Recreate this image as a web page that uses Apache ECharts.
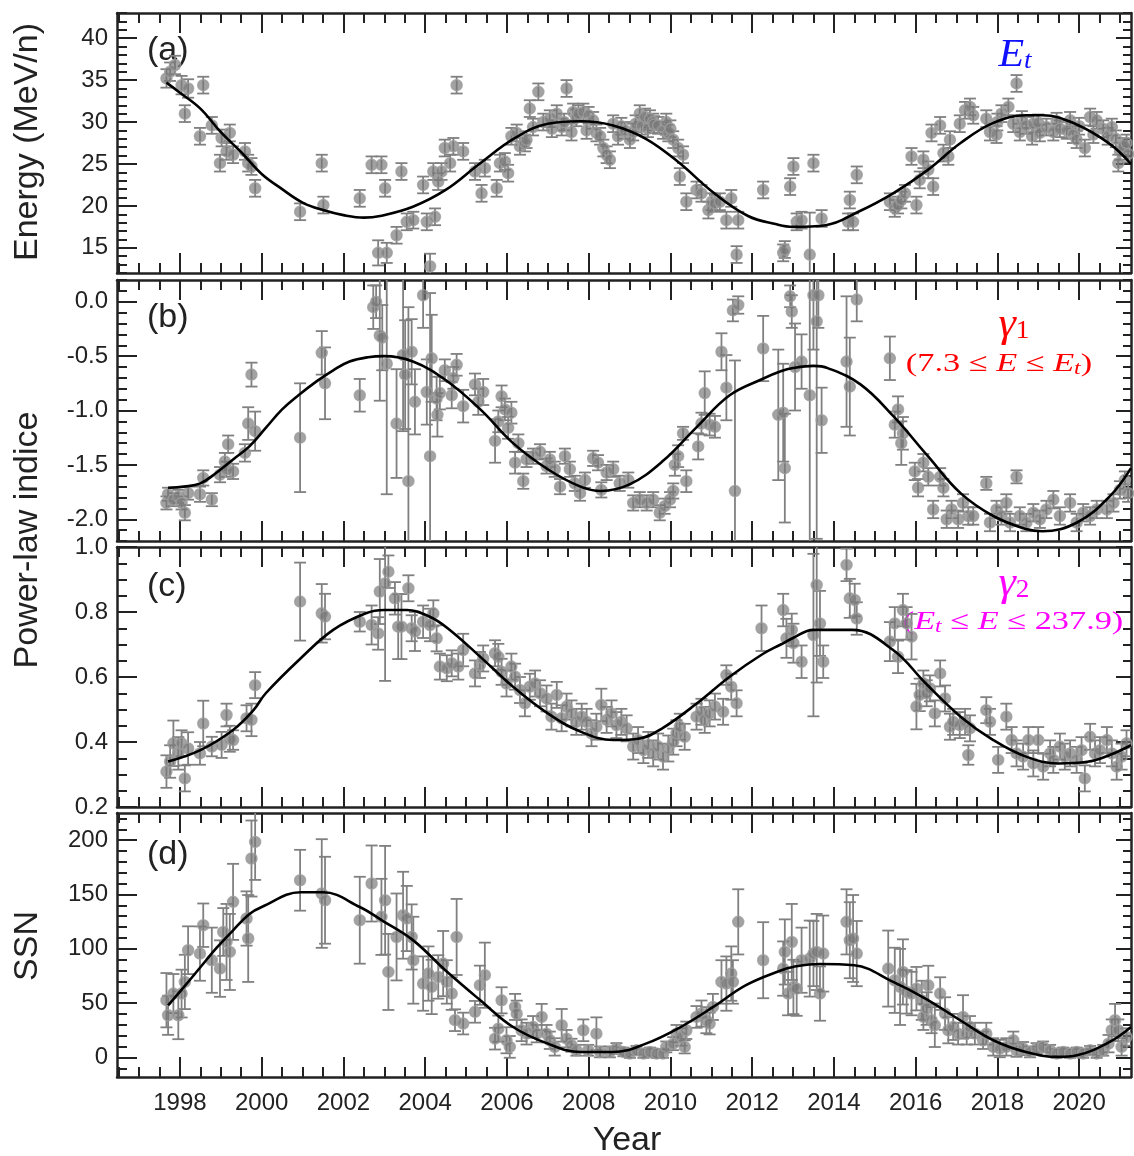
<!DOCTYPE html>
<html><head><meta charset="utf-8">
<script src="https://cdn.jsdelivr.net/npm/echarts@6/dist/echarts.min.js"></script>
<style>html,body{margin:0;padding:0;background:#fff}#chart{width:1134px;height:1156px}</style>
</head><body><div id="chart"></div>
<script>
// ---------------- DATA ----------------
// each point: [year, value, error]
const energyPts = [
[1997.67,35.2,1.1],[1997.76,36.0,1.1],[1997.88,36.8,1.1],[1998.04,34.4,1.1],[1998.2,34.0,1.1],[1998.57,34.4,1.0],[1998.12,31.0,1.0],[1998.49,28.3,1.0],[1998.78,29.6,1.0],[1999.02,28.1,1.0],[1999.22,28.7,1.0],[1998.98,25.1,1.0],[1999.14,26.5,1.0],[1999.3,26.1,1.0],[1999.59,26.5,1.0],[1999.67,25.1,1.0],[1999.75,24.7,1.0],[1999.84,22.1,1.0],[2000.94,19.3,1.0],[2001.47,25.1,1.0],[2001.51,20.1,1.0],[2002.4,20.9,1.0],[2002.69,24.9,1.0],[2002.93,24.9,1.0],[2003.02,22.1,1.0],[2002.85,14.4,1.5],[2003.06,14.4,1.2],[2003.3,16.5,1.0],[2003.42,24.1,1.0],[2003.55,18.1,1.0],[2003.71,18.3,1.0],[2004.04,18.1,1.0],[2004.24,18.7,1.0],[2003.95,22.5,1.0],[2004.12,12.8,1.5],[2004.2,24.1,1.0],[2004.4,24.1,1.0],[2004.32,22.9,1.0],[2004.48,26.9,1.0],[2004.69,27.1,1.0],[2004.93,26.5,1.0],[2004.61,25.1,1.0],[2004.77,34.4,1.0],[2005.22,24.1,1.0],[2005.38,21.5,1.0],[2005.46,24.5,1.0],[2005.75,22.1,1.0],[2005.83,25.1,1.0],[2005.95,25.3,1.0],[2006.03,23.9,1.0],[2006.11,28.3,1.0],[2006.24,28.7,1.0],[2006.32,27.1,1.0],[2006.44,27.5,1.0],[2006.48,27.9,1.0],[2006.56,31.6,1.0],[2006.77,33.6,1.0],[2006.64,29.4,1.0],[2006.89,30.0,1.0],[2007.05,30.4,1.0],[2007.1,29.2,1.0],[2007.22,31.0,1.0],[2007.34,29.4,1.0],[2007.4,30.0,1.0],[2007.46,34.0,1.0],[2007.62,31.2,1.0],[2007.7,30.5,1.0],[2007.75,31.0,1.0],[2007.58,28.8,1.0],[2007.87,31.2,1.0],[2007.95,29.0,1.0],[2008.0,30.8,1.0],[2008.11,30.2,1.0],[2008.19,28.7,1.0],[2008.28,28.3,1.0],[2008.36,26.9,1.0],[2008.44,26.1,1.0],[2008.52,25.5,1.0],[2008.6,29.8,1.0],[2008.72,28.3,1.0],[2008.8,29.5,1.0],[2008.89,29.0,1.0],[2009.01,27.9,1.0],[2009.09,28.8,1.0],[2009.15,29.8,1.0],[2009.25,31.0,1.0],[2009.3,29.5,1.0],[2009.38,30.6,1.0],[2009.45,29.2,1.0],[2009.5,30.4,1.0],[2009.58,30.0,1.0],[2009.6,29.7,1.0],[2009.7,29.6,1.0],[2009.82,29.0,1.0],[2009.9,30.0,1.0],[2009.95,28.7,1.0],[2010.0,29.2,1.0],[2010.07,27.9,1.0],[2010.19,26.9,1.0],[2010.31,26.1,1.0],[2010.23,23.5,1.0],[2010.39,20.5,1.0],[2010.64,21.9,1.0],[2010.76,21.5,1.0],[2010.93,19.5,1.0],[2011.01,20.5,1.0],[2011.09,20.3,1.0],[2011.21,20.5,1.0],[2011.37,18.3,1.0],[2011.49,20.9,1.0],[2011.62,14.2,1.0],[2011.66,18.3,1.0],[2012.27,21.9,1.0],[2012.76,14.4,1.0],[2012.8,14.8,1.0],[2012.93,22.3,1.0],[2013.01,24.7,1.0],[2013.09,18.1,1.0],[2013.21,18.3,1.0],[2013.5,25.1,1.0],[2013.41,14.2,5.0],[2013.7,18.5,1.0],[2014.35,18.1,1.0],[2014.39,20.7,1.0],[2014.47,18.1,1.0],[2014.56,23.7,1.0],[2015.37,20.5,1.0],[2015.49,19.7,1.0],[2015.57,20.1,1.0],[2015.65,20.7,1.0],[2015.74,21.5,1.0],[2015.9,25.9,1.0],[2016.02,20.1,1.0],[2016.1,23.1,1.0],[2016.19,25.5,1.0],[2016.31,24.3,1.0],[2016.43,22.3,1.0],[2016.39,28.7,1.0],[2016.6,29.6,1.0],[2016.68,26.3,1.0],[2016.8,25.9,1.0],[2016.84,27.9,1.0],[2017.08,29.8,1.0],[2017.21,31.4,1.0],[2017.33,31.8,1.0],[2017.41,30.8,1.0],[2017.73,30.4,1.0],[2017.82,28.8,1.0],[2017.98,28.5,1.0],[2018.0,30.0,1.0],[2018.1,31.0,1.0],[2018.27,31.8,1.0],[2018.47,34.6,1.0],[2018.39,29.8,1.0],[2018.55,28.8,1.0],[2018.6,30.3,1.0],[2018.71,29.6,1.0],[2018.85,28.3,1.0],[2018.88,29.8,1.0],[2019.0,29.9,1.0],[2019.04,28.7,1.0],[2019.2,29.4,1.0],[2019.37,28.8,1.0],[2019.45,30.1,1.0],[2019.53,29.2,1.0],[2019.7,29.0,1.0],[2019.78,30.2,1.0],[2019.85,28.5,1.0],[2019.94,27.9,1.0],[2020.0,29.5,1.0],[2020.14,26.9,1.0],[2020.27,30.6,1.0],[2020.35,28.5,1.0],[2020.43,30.2,1.0],[2020.59,29.2,1.0],[2020.7,28.3,1.0],[2020.8,29.4,1.0],[2020.9,28.0,1.0],[2020.96,25.1,1.0],[2021.0,26.5,1.0],[2021.08,27.1,1.0],[2021.16,27.5,1.0],[2021.2,26.2,1.0]
];
const energyFit = [
[1997.67,34.7],[1998.0,33.5],[1998.5,31.6],[1999.0,28.8],[1999.5,26.4],[2000.0,23.8],[2000.5,22.0],[2001.0,20.4],[2001.5,19.5],[2002.0,18.9],[2002.5,18.6],[2002.9,18.8],[2003.7,19.9],[2004.5,21.9],[2005.3,24.9],[2006.2,28.1],[2007.0,29.8],[2007.8,30.1],[2008.6,29.6],[2009.4,28.0],[2010.2,25.2],[2011.05,21.6],[2011.9,18.8],[2012.6,17.8],[2013.0,17.5],[2013.8,17.7],[2014.6,19.3],[2015.45,21.5],[2016.3,24.3],[2017.1,27.5],[2017.9,29.9],[2018.7,30.8],[2019.1,30.8],[2019.9,29.8],[2020.75,27.4],[2021.27,25.0]
];

const gamma1Pts = [
[1997.67,-1.85,0.06],[1997.71,-1.77,0.06],[1997.84,-1.82,0.06],[1997.96,-1.79,0.06],[1998.04,-1.85,0.06],[1998.12,-1.94,0.07],[1998.2,-1.76,0.06],[1998.49,-1.77,0.07],[1998.57,-1.62,0.07],[1998.78,-1.82,0.06],[1998.98,-1.59,0.07],[1999.1,-1.47,0.08],[1999.14,-1.54,0.07],[1999.18,-1.31,0.08],[1999.3,-1.56,0.07],[1999.59,-1.39,0.08],[1999.67,-1.12,0.15],[1999.75,-0.67,0.11],[1999.84,-1.19,0.18],[2000.94,-1.25,0.5],[2001.47,-0.47,0.2],[2001.55,-0.75,0.33],[2002.4,-0.86,0.15],[2002.73,-0.05,0.2],[2002.8,0.0,0.15],[2002.89,-0.31,0.6],[2002.95,-0.33,0.3],[2003.06,-0.57,1.2],[2003.3,-1.12,0.5],[2003.46,-0.49,0.7],[2003.51,-0.67,0.5],[2003.59,-1.65,1.6],[2003.67,-0.46,0.3],[2003.75,-0.92,0.3],[2003.95,0.06,0.3],[2004.04,-0.83,0.3],[2004.12,-1.42,1.5],[2004.16,-0.52,0.4],[2004.28,-0.89,0.2],[2004.3,-1.04,0.2],[2004.36,-0.84,0.15],[2004.48,-0.63,0.1],[2004.65,-0.86,0.12],[2004.69,-0.70,0.1],[2004.77,-0.58,0.1],[2004.93,-0.96,0.15],[2005.22,-0.76,0.1],[2005.3,-0.92,0.12],[2005.42,-0.83,0.12],[2005.71,-1.28,0.2],[2005.79,-1.10,0.1],[2005.87,-0.87,0.1],[2005.95,-0.99,0.1],[2006.03,-1.16,0.1],[2006.11,-1.02,0.1],[2006.2,-1.48,0.1],[2006.28,-1.30,0.08],[2006.4,-1.65,0.07],[2006.48,-1.45,0.07],[2006.64,-1.42,0.07],[2006.81,-1.38,0.07],[2006.97,-1.51,0.07],[2007.05,-1.45,0.07],[2007.17,-1.54,0.07],[2007.3,-1.70,0.07],[2007.42,-1.42,0.07],[2007.54,-1.54,0.07],[2007.66,-1.67,0.07],[2007.79,-1.76,0.07],[2007.91,-1.64,0.07],[2008.11,-1.44,0.07],[2008.23,-1.48,0.07],[2008.31,-1.73,0.07],[2008.44,-1.57,0.07],[2008.6,-1.54,0.07],[2008.76,-1.67,0.07],[2008.97,-1.64,0.07],[2009.09,-1.85,0.07],[2009.25,-1.82,0.07],[2009.42,-1.85,0.07],[2009.58,-1.82,0.07],[2009.74,-1.94,0.07],[2009.86,-1.88,0.07],[2009.99,-1.82,0.07],[2010.07,-1.74,0.07],[2010.11,-1.50,0.1],[2010.19,-1.42,0.1],[2010.31,-1.21,0.06],[2010.39,-1.65,0.1],[2010.68,-1.33,0.12],[2010.76,-1.12,0.1],[2010.84,-0.84,0.2],[2010.96,-1.13,0.1],[2011.09,-1.15,0.1],[2011.25,-0.46,0.17],[2011.37,-0.79,0.3],[2011.53,-0.08,0.1],[2011.66,-0.03,0.08],[2011.58,-1.74,1.2],[2012.27,-0.43,0.3],[2012.64,-1.04,0.6],[2012.76,-1.02,0.45],[2012.8,-1.53,0.5],[2012.93,0.05,0.1],[2012.97,-0.09,0.15],[2013.05,-0.60,0.4],[2013.21,-0.55,0.25],[2013.41,-0.86,2.0],[2013.5,0.06,0.5],[2013.62,0.06,0.3],[2013.58,-0.18,2.0],[2013.7,-1.09,0.3],[2014.31,-0.55,0.6],[2014.39,-0.78,0.45],[2014.56,0.02,0.2],[2015.37,-0.52,0.2],[2015.49,-1.13,0.12],[2015.57,-0.99,0.12],[2015.65,-1.30,0.2],[2015.69,-1.21,0.15],[2015.98,-1.56,0.08],[2016.06,-1.71,0.08],[2016.19,-1.48,0.08],[2016.31,-1.61,0.08],[2016.43,-1.91,0.08],[2016.6,-1.61,0.08],[2016.68,-1.71,0.08],[2016.76,-2.0,0.08],[2016.88,-1.91,0.08],[2017.04,-2.0,0.08],[2017.16,-1.85,0.08],[2017.29,-1.97,0.08],[2017.41,-1.97,0.08],[2017.73,-1.67,0.06],[2017.82,-2.03,0.08],[2017.98,-1.91,0.08],[2018.1,-1.97,0.08],[2018.22,-1.85,0.08],[2018.31,-2.03,0.08],[2018.47,-1.61,0.06],[2018.55,-1.97,0.08],[2018.71,-2.03,0.08],[2018.88,-1.94,0.08],[2019.04,-2.0,0.08],[2019.2,-1.91,0.08],[2019.37,-1.82,0.08],[2019.53,-1.97,0.08],[2019.78,-1.85,0.08],[2019.94,-2.03,0.08],[2020.1,-1.94,0.08],[2020.27,-1.97,0.08],[2020.43,-1.91,0.08],[2020.68,-1.91,0.08],[2020.84,-1.85,0.08],[2021.0,-1.73,0.08],[2021.12,-1.64,0.08],[2021.2,-1.76,0.08]
];
const gamma1Fit = [
[1997.71,-1.71],[1998.1,-1.70],[1998.5,-1.67],[1998.9,-1.57],[1999.3,-1.45],[1999.7,-1.33],[2000.1,-1.16],[2000.5,-0.99],[2000.9,-0.86],[2001.35,-0.73],[2001.75,-0.63],[2002.15,-0.55],[2002.6,-0.51],[2003.0,-0.50],[2003.7,-0.55],[2004.5,-0.72],[2005.35,-0.99],[2006.15,-1.30],[2007.0,-1.54],[2007.8,-1.70],[2008.3,-1.74],[2009.0,-1.68],[2009.8,-1.47],[2010.65,-1.15],[2011.45,-0.86],[2012.25,-0.71],[2012.7,-0.64],[2013.0,-0.61],[2013.5,-0.59],[2013.85,-0.61],[2014.65,-0.76],[2015.45,-1.05],[2016.3,-1.42],[2017.1,-1.76],[2017.9,-1.97],[2018.7,-2.09],[2019.1,-2.11],[2019.95,-2.03],[2020.75,-1.79],[2021.27,-1.53]
];

const gamma2Pts = [
[1997.67,0.309,0.05],[1997.76,0.34,0.05],[1997.84,0.396,0.07],[1997.96,0.365,0.05],[1998.04,0.396,0.04],[1998.12,0.288,0.04],[1998.2,0.38,0.05],[1998.49,0.365,0.035],[1998.57,0.457,0.07],[1998.78,0.386,0.03],[1999.02,0.391,0.04],[1999.14,0.483,0.035],[1999.22,0.41,0.04],[1999.3,0.406,0.03],[1999.63,0.473,0.04],[1999.75,0.468,0.05],[1999.84,0.575,0.04],[2000.94,0.832,0.12],[2001.47,0.796,0.09],[2001.55,0.786,0.07],[2002.4,0.77,0.03],[2002.69,0.76,0.06],[2002.85,0.734,0.05],[2002.89,0.863,0.1],[2003.02,0.888,0.3],[2003.1,0.924,0.05],[2003.26,0.842,0.05],[2003.34,0.755,0.1],[2003.42,0.755,0.1],[2003.59,0.873,0.04],[2003.67,0.75,0.04],[2003.75,0.74,0.06],[2003.95,0.77,0.05],[2004.12,0.76,0.05],[2004.2,0.796,0.04],[2004.28,0.719,0.04],[2004.36,0.632,0.04],[2004.53,0.627,0.04],[2004.65,0.642,0.04],[2004.81,0.632,0.04],[2004.93,0.683,0.05],[2005.22,0.611,0.04],[2005.34,0.637,0.04],[2005.42,0.657,0.04],[2005.71,0.673,0.04],[2005.79,0.662,0.04],[2005.87,0.616,0.04],[2005.99,0.58,0.04],[2006.11,0.632,0.04],[2006.2,0.601,0.04],[2006.32,0.56,0.04],[2006.44,0.519,0.04],[2006.56,0.57,0.04],[2006.69,0.58,0.04],[2006.81,0.55,0.04],[2006.97,0.534,0.04],[2007.09,0.478,0.04],[2007.22,0.545,0.04],[2007.34,0.473,0.04],[2007.46,0.509,0.04],[2007.58,0.488,0.04],[2007.7,0.462,0.04],[2007.83,0.478,0.04],[2007.95,0.462,0.04],[2008.07,0.427,0.04],[2008.19,0.447,0.04],[2008.31,0.514,0.05],[2008.44,0.468,0.04],[2008.56,0.488,0.04],[2008.68,0.452,0.04],[2008.8,0.462,0.04],[2008.93,0.442,0.04],[2009.09,0.386,0.04],[2009.21,0.406,0.04],[2009.34,0.375,0.04],[2009.46,0.391,0.04],[2009.58,0.365,0.04],[2009.7,0.386,0.04],[2009.82,0.355,0.04],[2009.95,0.38,0.04],[2010.07,0.401,0.04],[2010.15,0.427,0.04],[2010.23,0.447,0.04],[2010.35,0.416,0.04],[2010.64,0.478,0.04],[2010.76,0.493,0.04],[2010.84,0.468,0.04],[2010.96,0.488,0.04],[2011.09,0.509,0.04],[2011.29,0.493,0.04],[2011.37,0.606,0.03],[2011.49,0.57,0.04],[2011.62,0.519,0.04],[2012.23,0.75,0.07],[2012.76,0.806,0.05],[2012.84,0.719,0.06],[2012.97,0.745,0.05],[2013.01,0.704,0.06],[2013.21,0.647,0.05],[2013.5,0.729,0.25],[2013.58,0.883,0.3],[2013.66,0.765,0.1],[2013.74,0.647,0.05],[2014.31,0.945,0.05],[2014.39,0.842,0.06],[2014.51,0.837,0.05],[2014.56,0.78,0.05],[2015.37,0.709,0.06],[2015.49,0.765,0.05],[2015.57,0.662,0.05],[2015.69,0.806,0.05],[2015.78,0.765,0.05],[2015.9,0.724,0.07],[2016.02,0.509,0.07],[2016.1,0.545,0.05],[2016.19,0.58,0.04],[2016.27,0.55,0.04],[2016.35,0.565,0.04],[2016.47,0.488,0.04],[2016.6,0.611,0.04],[2016.72,0.534,0.04],[2016.84,0.447,0.04],[2016.92,0.462,0.04],[2017.08,0.452,0.04],[2017.21,0.462,0.04],[2017.33,0.442,0.04],[2017.29,0.36,0.03],[2017.73,0.498,0.04],[2017.82,0.462,0.04],[2018.02,0.345,0.04],[2018.22,0.478,0.04],[2018.35,0.406,0.04],[2018.47,0.365,0.04],[2018.63,0.355,0.04],[2018.76,0.406,0.04],[2018.88,0.334,0.04],[2019.0,0.406,0.04],[2019.12,0.324,0.04],[2019.29,0.365,0.04],[2019.37,0.345,0.04],[2019.53,0.386,0.04],[2019.65,0.355,0.04],[2019.78,0.365,0.04],[2019.94,0.345,0.04],[2020.06,0.375,0.04],[2020.14,0.288,0.04],[2020.27,0.416,0.04],[2020.39,0.365,0.04],[2020.51,0.375,0.04],[2020.68,0.406,0.04],[2020.8,0.365,0.04],[2020.92,0.324,0.04],[2021.04,0.355,0.04],[2021.16,0.396,0.04]
];
const gamma2Fit = [
[1997.71,0.34],[1998.5,0.375],[1999.3,0.437],[1999.8,0.498],[2000.1,0.55],[2000.95,0.657],[2001.75,0.745],[2002.55,0.796],[2003.0,0.806],[2003.55,0.806],[2004.1,0.786],[2004.55,0.75],[2005.35,0.662],[2006.15,0.57],[2007.0,0.488],[2007.8,0.432],[2008.6,0.406],[2009.25,0.411],[2009.8,0.442],[2010.65,0.519],[2011.45,0.601],[2012.25,0.67],[2012.7,0.70],[2013.0,0.72],[2013.5,0.745],[2014.45,0.745],[2015.45,0.683],[2016.25,0.58],[2017.1,0.478],[2017.9,0.406],[2018.7,0.355],[2019.5,0.334],[2020.2,0.339],[2020.75,0.36],[2021.27,0.39]
];

const ssnPts = [
[1997.67,52.7,25],[1997.71,38.8,18],[1997.84,58.8,18],[1997.96,38.8,22],[1998.04,58.8,22],[1998.12,69.5,25],[1998.2,98.7,22],[1998.49,95.6,25],[1998.57,121.7,20],[1998.78,89.5,30],[1998.98,81.8,26],[1999.06,115.5,22],[1999.14,106.3,35],[1999.22,97.1,35],[1999.3,143.2,35],[1999.63,127.9,25],[1999.67,109.5,40],[1999.75,183.1,35],[1999.84,198.4,35],[2000.94,163.1,28],[2001.47,150.9,50],[2001.55,144.7,40],[2002.4,126.3,40],[2002.69,160.1,35],[2002.93,129.4,35],[2003.02,144.7,50],[2003.1,78.7,35],[2003.3,110.9,40],[2003.46,130.9,40],[2003.55,127.9,30],[2003.67,110.9,30],[2003.71,89.5,40],[2003.95,68.0,25],[2004.08,77.2,25],[2004.16,64.9,25],[2004.32,74.1,20],[2004.44,86.4,30],[2004.53,69.5,20],[2004.65,58.8,15],[2004.73,34.3,10],[2004.77,110.9,35],[2004.93,31.2,10],[2005.22,42.0,10],[2005.34,66.5,18],[2005.46,75.7,30],[2005.71,17.3,10],[2005.79,26.5,12],[2005.87,52.6,12],[2005.99,15.8,12],[2006.07,9.7,10],[2006.2,46.5,12],[2006.24,40.3,12],[2006.36,25.0,10],[2006.48,21.9,10],[2006.64,28.1,10],[2006.73,21.9,8],[2006.85,37.3,12],[2006.97,21.9,8],[2007.05,15.8,8],[2007.17,9.7,8],[2007.34,29.6,15],[2007.46,17.3,8],[2007.58,11.2,6],[2007.7,6.6,5],[2007.87,25.0,10],[2007.99,6.6,5],[2008.19,21.9,15],[2008.28,5.1,5],[2008.52,5.1,5],[2008.68,8.2,5],[2008.85,5.1,4],[2009.01,3.6,4],[2009.17,6.6,4],[2009.34,3.6,4],[2009.5,5.1,4],[2009.66,3.6,4],[2009.82,3.6,4],[2009.9,9.7,5],[2010.07,12.7,6],[2010.15,21.9,8],[2010.27,18.8,8],[2010.35,9.7,6],[2010.39,25.0,8],[2010.64,37.3,10],[2010.76,40.4,12],[2010.88,34.3,12],[2010.96,31.2,10],[2011.04,46.5,12],[2011.25,69.5,20],[2011.37,68.0,25],[2011.49,77.2,25],[2011.53,69.5,20],[2011.66,124.8,30],[2012.27,89.5,35],[2012.76,81.8,25],[2012.8,97.1,30],[2012.88,58.8,20],[2012.97,106.3,35],[2013.01,64.9,25],[2013.09,63.3,25],[2013.21,89.5,30],[2013.41,91.0,35],[2013.5,95.6,30],[2013.58,97.1,35],[2013.66,58.8,25],[2013.74,95.6,35],[2014.31,124.8,30],[2014.39,107.9,35],[2014.47,109.5,40],[2014.56,95.6,30],[2015.33,81.8,35],[2015.49,71.0,30],[2015.62,64.9,35],[2015.69,78.7,30],[2015.78,60.4,20],[2015.9,58.8,20],[2016.02,63.3,20],[2016.15,52.6,18],[2016.19,37.3,12],[2016.27,45.0,15],[2016.31,66.4,18],[2016.39,34.3,12],[2016.47,29.6,20],[2016.6,58.8,15],[2016.72,40.4,15],[2016.8,25.0,12],[2016.92,28.1,12],[2017.04,21.9,10],[2017.16,37.3,20],[2017.25,21.9,10],[2017.33,28.1,10],[2017.45,21.9,10],[2017.65,15.8,8],[2017.73,21.9,10],[2017.9,9.7,8],[2018.06,8.2,8],[2018.22,9.7,8],[2018.39,15.8,8],[2018.47,6.6,6],[2018.63,8.2,6],[2018.8,5.1,5],[2018.96,8.2,5],[2019.12,9.7,5],[2019.29,6.6,5],[2019.45,3.6,4],[2019.61,5.1,4],[2019.78,3.6,4],[2019.94,5.1,4],[2020.1,3.6,4],[2020.27,6.6,4],[2020.43,3.6,4],[2020.59,6.6,5],[2020.72,12.7,8],[2020.8,25.0,10],[2020.88,34.3,15],[2020.96,25.0,10],[2021.04,9.7,8],[2021.16,18.8,8]
];
const ssnFit = [
[1997.71,48],[1998.1,65],[1998.5,83],[1998.9,101],[1999.3,117],[1999.7,132],[2000.0,138.5],[2000.95,152],[2001.5,152],[2002.4,138.5],[2002.95,126],[2003.7,108],[2004.5,80],[2005.35,52.6],[2006.15,28],[2007.0,12.7],[2007.8,5],[2008.6,5],[2009.4,12.7],[2010.25,28],[2011.05,46.5],[2011.85,66.5],[2012.7,80],[2013.0,83.3],[2013.65,86],[2014.5,84.8],[2015.45,69.5],[2016.25,54],[2017.1,34],[2017.9,15.8],[2018.7,5],[2019.5,0.5],[2019.95,2],[2020.75,14.3],[2021.27,28]
];

// tick labels
const yearLabels = [1998,2000,2002,2004,2006,2008,2010,2012,2014,2016,2018,2020];
const energyTicks = [15,20,25,30,35,40];
const gamma1Ticks = [-2.0,-1.5,-1.0,-0.5,0.0];
const gamma2Ticks = [0.2,0.4,0.6,0.8,1.0];
const ssnTicks = [0,50,100,150,200];

// ---------------- CHART ----------------
function range(a, b, step){ const out=[]; for(let v=a; v<=b+1e-9; v+=step) out.push(Math.round(v*1000)/1000); return out; }
const FONT = '"Liberation Sans", Arial, Helvetica, sans-serif';
const SERIF = '"Liberation Serif", "DejaVu Serif", serif';
const INK = '#222';
const GREY = '#808080';
const X_MIN = 1996.46, X_MAX = 2021.27;
const GL = 117, GW = 1014;
const yearMinor = range(1996.5, 2021, 0.5);

const panels = [
  {top:13, height:260, min:12, max:43, major:energyTicks, minor:range(12,43,1), fmt:v=>String(v), pts:energyPts, fit:energyFit},
  {top:280, height:261, min:-2.2, max:0.2, major:gamma1Ticks, minor:range(-2.2,0.2,0.1), fmt:v=>v.toFixed(1), pts:gamma1Pts, fit:gamma1Fit},
  {top:547, height:260, min:0.2, max:1.0, major:gamma2Ticks, minor:range(0.2,1.0,0.05), fmt:v=>v.toFixed(1), pts:gamma2Pts, fit:gamma2Fit},
  {top:813, height:264, min:-18, max:225, major:ssnTicks, minor:range(-10,220,10), fmt:v=>String(Math.round(v)), pts:ssnPts, fit:ssnFit}
];

const grids=[], xAxes=[], yAxes=[], series=[];
function axisBase(gi, pos, min, max, ticks, len, line, labelCfg){
  return {type:'value', gridIndex:gi, position:pos, min:min, max:max,
    axisLine:{show:line, onZero:false, lineStyle:{color:INK, width:2.5}},
    axisTick:{show:true, inside:true, length:len, customValues:ticks, lineStyle:{color:INK, width:2}},
    axisLabel: labelCfg || {show:false},
    splitLine:{show:false}, minorTick:{show:false}, minorSplitLine:{show:false}};
}
panels.forEach((p, gi) => {
  grids.push({left:GL, width:GW, top:p.top, height:p.height, containLabel:false});
  const xl = gi===3 ? {show:true, customValues:yearLabels, margin:14, color:INK, fontSize:24, fontFamily:FONT, formatter:v=>String(Math.round(v))} : null;
  xAxes.push(axisBase(gi,'bottom',X_MIN,X_MAX,yearLabels,20,true,xl));
  xAxes.push(axisBase(gi,'bottom',X_MIN,X_MAX,yearMinor,10,false,null));
  xAxes.push(axisBase(gi,'top',X_MIN,X_MAX,yearLabels,20,true,null));
  xAxes.push(axisBase(gi,'top',X_MIN,X_MAX,yearMinor,10,false,null));
  const yl = {show:true, customValues:p.major, margin:9, color:INK, fontSize:24, fontFamily:FONT, formatter:p.fmt};
  yAxes.push(axisBase(gi,'left',p.min,p.max,p.major,20,true,yl));
  yAxes.push(axisBase(gi,'left',p.min,p.max,p.minor,10,false,null));
  yAxes.push(axisBase(gi,'right',p.min,p.max,p.major,15,true,null));
  yAxes.push(axisBase(gi,'right',p.min,p.max,p.minor,8,false,null));
  const xi = gi*4, yi = gi*4;
  series.push({type:'custom', xAxisIndex:xi, yAxisIndex:yi, clip:true, z:2,
    encode:{x:0, y:1}, data:p.pts,
    renderItem:(params, api) => {
      const x = api.value(0), y = api.value(1), e = api.value(2);
      const c = api.coord([x, y]);
      const hi = api.coord([x, y+e])[1], lo = api.coord([x, y-e])[1];
      const w = 6, st = {stroke:GREY, lineWidth:1.8};
      return {type:'group', children:[
        {type:'line', shape:{x1:c[0], y1:hi, x2:c[0], y2:lo}, style:st},
        {type:'line', shape:{x1:c[0]-w, y1:hi, x2:c[0]+w, y2:hi}, style:st},
        {type:'line', shape:{x1:c[0]-w, y1:lo, x2:c[0]+w, y2:lo}, style:st}
      ]};
    }});
  series.push({type:'scatter', xAxisIndex:xi, yAxisIndex:yi, z:3, clip:true,
    data:p.pts.map(d=>[d[0], d[1]]), symbol:'circle', symbolSize:11,
    itemStyle:{color:'rgba(120,120,120,0.85)', borderColor:'#9c9c9c', borderWidth:1.5}});
  series.push({type:'line', xAxisIndex:xi, yAxisIndex:yi, z:4, clip:true, smooth:0.4,
    data:p.fit, showSymbol:false, symbol:'none', lineStyle:{color:'#000', width:2.6}});
});

const graphic = [
  {type:'text', x:28, y:142, rotation:Math.PI/2, style:{text:'Energy (MeV/n)', font:'34px '+FONT, fill:INK, align:'center', verticalAlign:'middle'}},
  {type:'text', x:28, y:540, rotation:Math.PI/2, style:{text:'Power-law indice', font:'34px '+FONT, fill:INK, align:'center', verticalAlign:'middle'}},
  {type:'text', x:28, y:946, rotation:Math.PI/2, style:{text:'SSN', font:'34px '+FONT, fill:INK, align:'center', verticalAlign:'middle'}},
  {type:'text', x:627, y:1141, style:{text:'Year', font:'34px '+FONT, fill:INK, align:'center', verticalAlign:'middle'}},
  {type:'text', x:147, y:51, style:{text:'(a)', font:'34px '+FONT, fill:INK, align:'left', verticalAlign:'middle'}},
  {type:'text', x:147, y:318, style:{text:'(b)', font:'34px '+FONT, fill:INK, align:'left', verticalAlign:'middle'}},
  {type:'text', x:147, y:587, style:{text:'(c)', font:'34px '+FONT, fill:INK, align:'left', verticalAlign:'middle'}},
  {type:'text', x:147, y:855, style:{text:'(d)', font:'34px '+FONT, fill:INK, align:'left', verticalAlign:'middle'}},
  // annotations
  {type:'text', x:1015, y:55, scaleX:1.05, style:{text:'{i|E}{s|t}', align:'center', verticalAlign:'middle',
    rich:{i:{fontFamily:SERIF, fontStyle:'italic', fontSize:40, lineHeight:38, fill:'#1010ff'},
          s:{fontFamily:SERIF, fontStyle:'italic', fontSize:26, lineHeight:16, verticalAlign:'bottom', fill:'#1010ff'}}}},
  {type:'text', x:1014, y:325, scaleX:1.05, style:{text:'{i|γ}{s|1}', align:'center', verticalAlign:'middle',
    rich:{i:{fontFamily:SERIF, fontStyle:'italic', fontSize:42, lineHeight:38, fill:'#ff0000'},
          s:{fontFamily:SERIF, fontSize:26, lineHeight:16, verticalAlign:'bottom', fill:'#ff0000'}}}},
  {type:'text', x:999, y:364, scaleX:1.32, style:{text:'{n|(7.3 ≤ }{i|E}{n| ≤ }{i|E}{s|t}{n|)}', align:'center', verticalAlign:'middle',
    rich:{n:{fontFamily:SERIF, fontSize:26, lineHeight:28, fill:'#ff0000'},
          i:{fontFamily:SERIF, fontStyle:'italic', fontSize:26, lineHeight:28, fill:'#ff0000'},
          s:{fontFamily:SERIF, fontStyle:'italic', fontSize:18, lineHeight:10, verticalAlign:'bottom', fill:'#ff0000'}}}},
  {type:'text', x:1014, y:584, scaleX:1.05, style:{text:'{i|γ}{s|2}', align:'center', verticalAlign:'middle',
    rich:{i:{fontFamily:SERIF, fontStyle:'italic', fontSize:42, lineHeight:38, fill:'#ff00ff'},
          s:{fontFamily:SERIF, fontSize:26, lineHeight:16, verticalAlign:'bottom', fill:'#ff00ff'}}}},
  {type:'text', x:1013, y:622, scaleX:1.32, style:{text:'{n|(}{i|E}{s|t}{n| ≤ }{i|E}{n| ≤ 237.9)}', align:'center', verticalAlign:'middle',
    rich:{n:{fontFamily:SERIF, fontSize:26, lineHeight:28, fill:'#ff00ff'},
          i:{fontFamily:SERIF, fontStyle:'italic', fontSize:26, lineHeight:28, fill:'#ff00ff'},
          s:{fontFamily:SERIF, fontStyle:'italic', fontSize:18, lineHeight:10, verticalAlign:'bottom', fill:'#ff00ff'}}}}
];

const chart = echarts.init(document.getElementById('chart'), null, {renderer:'canvas'});
chart.setOption({animation:false, backgroundColor:'#fff', grid:grids, xAxis:xAxes, yAxis:yAxes, series:series, graphic:graphic});
</script></body></html>
